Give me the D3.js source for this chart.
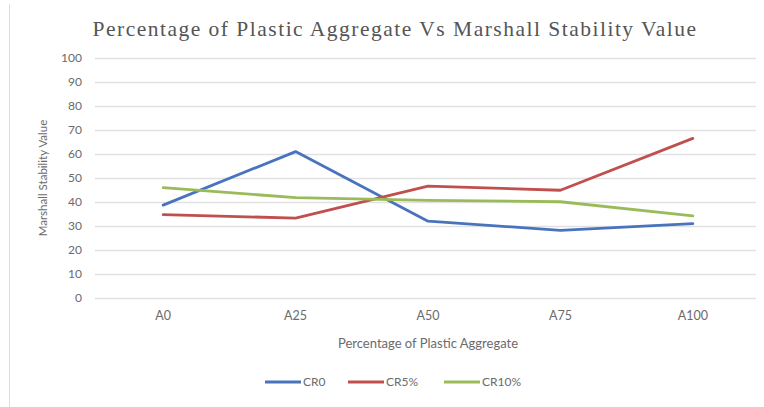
<!DOCTYPE html>
<html>
<head>
<meta charset="utf-8">
<script src="https://cdn.jsdelivr.net/npm/d3@7"></script>
<style>
  html, body { margin: 0; padding: 0; background: #fff; }
  svg { display: block; }
</style>
</head>
<body>
<svg id="chart" width="764" height="407"></svg>
<script>
// Mix designations along the x axis
const categories = ["A0", "A25", "A50", "A75", "A100"];

// Marshall stability values per crumb-rubber content
const cr0   = [38.7, 61.0, 32.0, 28.2, 31.0];
const cr5   = [34.7, 33.3, 46.6, 44.9, 66.5];
const cr10  = [46.0, 41.8, 40.7, 40.1, 34.2];

const seriesNames = ["CR0", "CR5%", "CR10%"];
const seriesColors = ["#4a73be", "#c0504d", "#9bbb59"];
const yTicks = [0, 10, 20, 30, 40, 50, 60, 70, 80, 90, 100];

const series = [cr0, cr5, cr10].map((values, i) => ({
  name: seriesNames[i],
  color: seriesColors[i],
  values
}));

const svg = d3.select("#chart");
const W = 764, H = 407;
const plot = { left: 97, right: 759, top: 58, bottom: 298 };
const sans = "Lato, 'Open Sans', sans-serif";
const textColor = "#6b6b6b";

// Chart frame edge on the left
svg.append("line")
  .attr("x1", 9.5).attr("x2", 9.5)
  .attr("y1", 4).attr("y2", H)
  .attr("stroke", "#dcdcdc").attr("stroke-width", 1);

const x = d3.scaleBand()
  .domain(categories)
  .range([plot.left, plot.right])
  .padding(0);

const y = d3.scaleLinear()
  .domain([0, 100])
  .range([plot.bottom, plot.top]);

// Horizontal gridlines
svg.append("g")
  .selectAll("line")
  .data(yTicks)
  .join("line")
  .attr("x1", plot.left - 2)
  .attr("x2", plot.right - 3)
  .attr("y1", d => Math.round(y(d)) + 0.5)
  .attr("y2", d => Math.round(y(d)) + 0.5)
  .attr("stroke", "#e1e1e1")
  .attr("stroke-width", 1.3);

// Y axis tick labels
const yAxis = d3.axisLeft(y).tickValues(yTicks).tickSize(0).tickPadding(0);
svg.append("g")
  .attr("transform", `translate(${82},0)`)
  .call(yAxis)
  .call(g => g.select(".domain").remove())
  .call(g => g.selectAll("text")
    .attr("font-family", sans)
    .attr("font-size", 12)
    .attr("fill", textColor));

// X axis category labels
const xAxis = d3.axisBottom(x).tickSize(0).tickPadding(0);
svg.append("g")
  .attr("transform", `translate(0,${311})`)
  .call(xAxis)
  .call(g => g.select(".domain").remove())
  .call(g => g.selectAll("text")
    .attr("font-family", sans)
    .attr("font-size", 12.5)
    .attr("fill", textColor));

// Series lines
const line = d3.line()
  .x((d, i) => x(categories[i]) + x.bandwidth() / 2)
  .y(d => y(d));

svg.append("g")
  .selectAll("path")
  .data(series)
  .join("path")
  .attr("d", d => line(d.values))
  .attr("fill", "none")
  .attr("stroke", d => d.color)
  .attr("stroke-width", 2.8)
  .attr("stroke-linejoin", "round")
  .attr("stroke-linecap", "round");

// Chart title, lightly spaced to span the header width
const title = svg.append("text")
  .attr("x", 395)
  .attr("y", 36)
  .attr("text-anchor", "middle")
  .attr("font-family", "'Liberation Serif', 'DejaVu Serif', serif")
  .attr("font-size", 21.5)
  .attr("fill", "#555")
  .text("Percentage of Plastic Aggregate Vs Marshall Stability Value");
const targetTitleWidth = 605;
const tw = title.node().getComputedTextLength();
const chars = title.text().length;
title.attr("letter-spacing", Math.max(0, (targetTitleWidth - tw) / chars));

// Axis titles
svg.append("text")
  .attr("x", (plot.left + plot.right) / 2)
  .attr("y", 348)
  .attr("text-anchor", "middle")
  .attr("font-family", sans)
  .attr("font-size", 13)
  .attr("fill", textColor)
  .text("Percentage of Plastic Aggregate");

svg.append("text")
  .attr("transform", `translate(47,${(plot.top + plot.bottom) / 2}) rotate(-90)`)
  .attr("text-anchor", "middle")
  .attr("font-family", sans)
  .attr("font-size", 11.5)
  .attr("fill", textColor)
  .text("Marshall Stability Value");

// Legend
const legendY = 382;
const legendItems = [
  { x: 265 },
  { x: 348 },
  { x: 444 }
];
const legend = svg.append("g");
series.forEach((s, i) => {
  const lx = legendItems[i].x;
  legend.append("line")
    .attr("x1", lx).attr("x2", lx + 36)
    .attr("y1", legendY).attr("y2", legendY)
    .attr("stroke", s.color)
    .attr("stroke-width", 2.8);
  legend.append("text")
    .attr("x", lx + 38)
    .attr("y", legendY + 4)
    .attr("font-family", sans)
    .attr("font-size", 12)
    .attr("fill", textColor)
    .text(s.name);
});
</script>
</body>
</html>
